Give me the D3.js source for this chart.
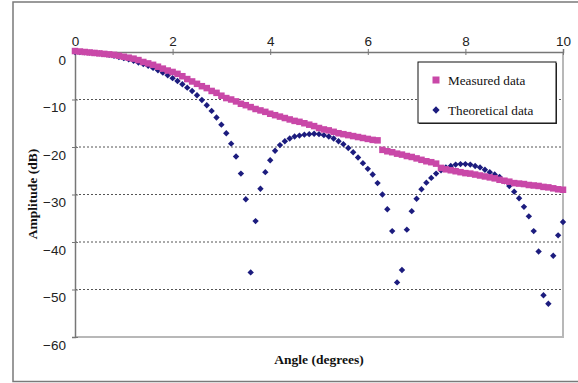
<!DOCTYPE html>
<html>
<head>
<meta charset="utf-8">
<script src="https://cdn.jsdelivr.net/npm/d3@7"></script>
<style>
  body { margin: 0; background: #fff; }
  svg { display: block; }
</style>
</head>
<body>
<div id="chart"></div>
<script>

// data
const angles = [
  0.0, 0.1, 0.2, 0.3, 0.4, 0.5, 0.6, 0.7, 0.8, 0.9,
  1.0, 1.1, 1.2, 1.3, 1.4, 1.5, 1.6, 1.7, 1.8, 1.9,
  2.0, 2.1, 2.2, 2.3, 2.4, 2.5, 2.6, 2.7, 2.8, 2.9,
  3.0, 3.1, 3.2, 3.3, 3.4, 3.5, 3.6, 3.7, 3.8, 3.9,
  4.0, 4.1, 4.2, 4.3, 4.4, 4.5, 4.6, 4.7, 4.8, 4.9,
  5.0, 5.1, 5.2, 5.3, 5.4, 5.5, 5.6, 5.7, 5.8, 5.9,
  6.0, 6.1, 6.2, 6.3, 6.4, 6.5, 6.6, 6.7, 6.8, 6.9,
  7.0, 7.1, 7.2, 7.3, 7.4, 7.5, 7.6, 7.7, 7.8, 7.9,
  8.0, 8.1, 8.2, 8.3, 8.4, 8.5, 8.6, 8.7, 8.8, 8.9,
  9.0, 9.1, 9.2, 9.3, 9.4, 9.5, 9.6, 9.7, 9.8, 9.9,
  10.0
];

const measured = [
  0.2, 0.1, 0.0, -0.1, -0.2, -0.3, -0.4, -0.5, -0.6, -0.8,
  -1.0, -1.2, -1.4, -1.7, -2.1, -2.4, -2.7, -3.1, -3.5, -3.9,
  -4.2, -4.6, -5.1, -5.7, -6.2, -6.7, -7.2, -7.6, -8.2, -8.6,
  -9.2, -9.7, -10.0, -10.4, -10.9, -11.2, -11.6, -12.0, -12.3, -12.6,
  -13.0, -13.3, -13.6, -13.9, -14.2, -14.5, -14.7, -15.0, -15.3, -15.6,
  -16.0, -16.3, -16.5, -16.8, -17.1, -17.3, -17.5, -17.7, -17.9, -18.1,
  -18.3, -18.5, -18.6, -20.6, -20.9, -21.1, -21.4, -21.6, -21.9, -22.1,
  -22.4, -22.7, -23.0, -23.2, -23.5, -24.4, -24.7, -24.9, -25.1, -25.3,
  -25.5, -25.6, -25.8, -26.0, -26.2, -26.4, -26.6, -26.9, -27.1, -27.3,
  -27.6, -27.7, -27.8, -28.0, -28.1, -28.2, -28.4, -28.5, -28.7, -28.9,
  -29.0
];

const theoretical = [
  0.0, -0.01, -0.05, -0.12, -0.2, -0.3, -0.45, -0.6, -0.8, -1.05,
  -1.3, -1.55, -1.85, -2.2, -2.55, -2.9, -3.35, -3.85, -4.35, -4.9,
  -5.5, -6.1, -6.8, -7.5, -8.2, -9.1, -10.1, -11.2, -12.4, -13.8,
  -15.3, -17.1, -19.3, -22.0, -25.6, -31.0, -46.4, -35.6, -28.8, -25.3,
  -22.8, -20.8, -19.6, -18.8, -18.2, -17.8, -17.6, -17.4, -17.3, -17.2,
  -17.3, -17.5, -17.8, -18.2, -18.8, -19.4, -20.2, -21.1, -22.2, -23.4,
  -24.6, -25.8, -27.6, -30.0, -33.1, -37.7, -48.5, -45.9, -37.4, -33.5,
  -30.9, -28.9, -27.5, -26.5, -25.6, -24.9, -24.3, -24.0, -23.7, -23.6,
  -23.6, -23.7, -24.0, -24.3, -24.8, -25.3, -25.8, -26.3, -27.2, -28.2,
  -29.4, -30.8, -32.6, -34.6, -37.7, -42.0, -51.2, -53.0, -42.9, -38.6,
  -35.8
];

const seriesNames = ['Measured data', 'Theoretical data'];
const xTicks = [0, 2, 4, 6, 8, 10];
const yTicks = [0, -10, -20, -30, -40, -50, -60];
const gridTicks = [-10, -20, -30, -40, -50];

// constants
const width = 578, height = 383;
const margins = { top: 52, bottom: 46, left: 75, right: 15 };
const pinkColor = '#c948a8';
const navyColor = '#1c1c7e';
const sansFont = '"Liberation Sans", Arial, sans-serif';
const serifFont = '"Liberation Serif", "Times New Roman", serif';

// svg
const svg = d3.select('#chart')
  .append('svg')
  .attr('width', width)
  .attr('height', height);

// outer frame
svg.append('rect')
  .attr('x', 13).attr('y', 2)
  .attr('width', 580).attr('height', 379.5)
  .attr('fill', '#fff')
  .attr('stroke', '#7a7a7a')
  .attr('stroke-width', 1.5);

// scales
const xScale = d3.scaleLinear().domain([0, 10]).range([margins.left, width - margins.right]);
const yScale = d3.scaleLinear().domain([-60, 0]).range([height - margins.bottom, margins.top]);

// plot border (right and bottom)
svg.append('path')
  .attr('d', `M${xScale(10)},${yScale(0)} V${yScale(-60)} H${xScale(0)}`)
  .attr('fill', 'none')
  .attr('stroke', '#b8b8b8')
  .attr('stroke-width', 2);

// gridlines
svg.append('g')
  .selectAll('line')
  .data(gridTicks)
  .join('line')
  .attr('x1', xScale(0))
  .attr('x2', xScale(10))
  .attr('y1', d => yScale(d))
  .attr('y2', d => yScale(d))
  .attr('stroke', '#555')
  .attr('stroke-width', 1)
  .attr('stroke-dasharray', '2,2');

// axes
const xAxisGroup = svg.append('g')
  .attr('transform', `translate(0,${yScale(0)})`)
  .call(d3.axisTop(xScale).tickValues(xTicks).tickSize(3).tickPadding(3).tickFormat(d3.format('d')));

const yAxisGroup = svg.append('g')
  .attr('transform', `translate(${xScale(0)},0)`)
  .call(d3.axisLeft(yScale).tickValues(yTicks).tickSize(3).tickPadding(6).tickFormat(d3.format('d')));

xAxisGroup.selectAll('.tick line').attr('y1', 3);
yAxisGroup.selectAll('.tick line').attr('x1', 3);

[xAxisGroup, yAxisGroup].forEach(g => {
  g.select('.domain').attr('stroke', '#777').attr('stroke-width', 1.5);
  g.selectAll('.tick line').attr('stroke', '#777');
  g.selectAll('.tick text')
    .attr('font-family', sansFont)
    .attr('font-size', 13.5)
    .attr('fill', '#222');
});
yAxisGroup.selectAll('.tick text').attr('dy', '0.9em');

// theoretical diamonds
const diamond = d3.symbol().type(d3.symbolDiamond2).size(26);

svg.append('g')
  .selectAll('path')
  .data(angles.map((a, i) => ({ angle: a, value: theoretical[i] })))
  .join('path')
  .attr('d', diamond)
  .attr('transform', d => `translate(${xScale(d.angle)},${yScale(d.value)})`)
  .attr('fill', navyColor);

// measured squares
const squareSize = 6.5;

svg.append('g')
  .selectAll('rect')
  .data(angles.map((a, i) => ({ angle: a, value: measured[i] })))
  .join('rect')
  .attr('x', d => xScale(d.angle) - squareSize / 2)
  .attr('y', d => yScale(d.value) - squareSize / 2)
  .attr('width', squareSize)
  .attr('height', squareSize)
  .attr('fill', pinkColor);

// legend
const legend = svg.append('g').attr('transform', 'translate(418,62)');

legend.append('rect')
  .attr('x', 1).attr('y', 1)
  .attr('width', 138).attr('height', 61)
  .attr('fill', '#333');
legend.append('rect')
  .attr('width', 138).attr('height', 61)
  .attr('fill', '#fff')
  .attr('stroke', '#111')
  .attr('stroke-width', 1);

const legendItems = legend.selectAll('.legend-item')
  .data(seriesNames)
  .join('g')
  .attr('class', 'legend-item')
  .attr('transform', (d, i) => `translate(18,${18 + i * 30})`);

legendItems.each(function(d, i) {
  const item = d3.select(this);
  if (i === 0) {
    item.append('rect')
      .attr('x', -3.5).attr('y', -3.5)
      .attr('width', 7).attr('height', 7)
      .attr('fill', pinkColor);
  } else {
    item.append('path')
      .attr('d', d3.symbol().type(d3.symbolDiamond2).size(34))
      .attr('fill', navyColor);
  }
  item.append('text')
    .attr('x', 12)
    .attr('dy', '0.35em')
    .attr('font-family', serifFont)
    .attr('font-size', 13.2)
    .attr('fill', '#111')
    .text(d);
});

// axis titles
svg.append('text')
  .attr('x', (xScale(0) + xScale(10)) / 2)
  .attr('y', 364)
  .attr('text-anchor', 'middle')
  .attr('font-family', serifFont)
  .attr('font-weight', 'bold')
  .attr('font-size', 13.5)
  .attr('fill', '#111')
  .text('Angle (degrees)');

svg.append('text')
  .attr('transform', 'translate(37,194) rotate(-90)')
  .attr('text-anchor', 'middle')
  .attr('font-family', serifFont)
  .attr('font-weight', 'bold')
  .attr('font-size', 13.5)
  .attr('fill', '#111')
  .text('Amplitude (dB)');

</script>
</body>
</html>
